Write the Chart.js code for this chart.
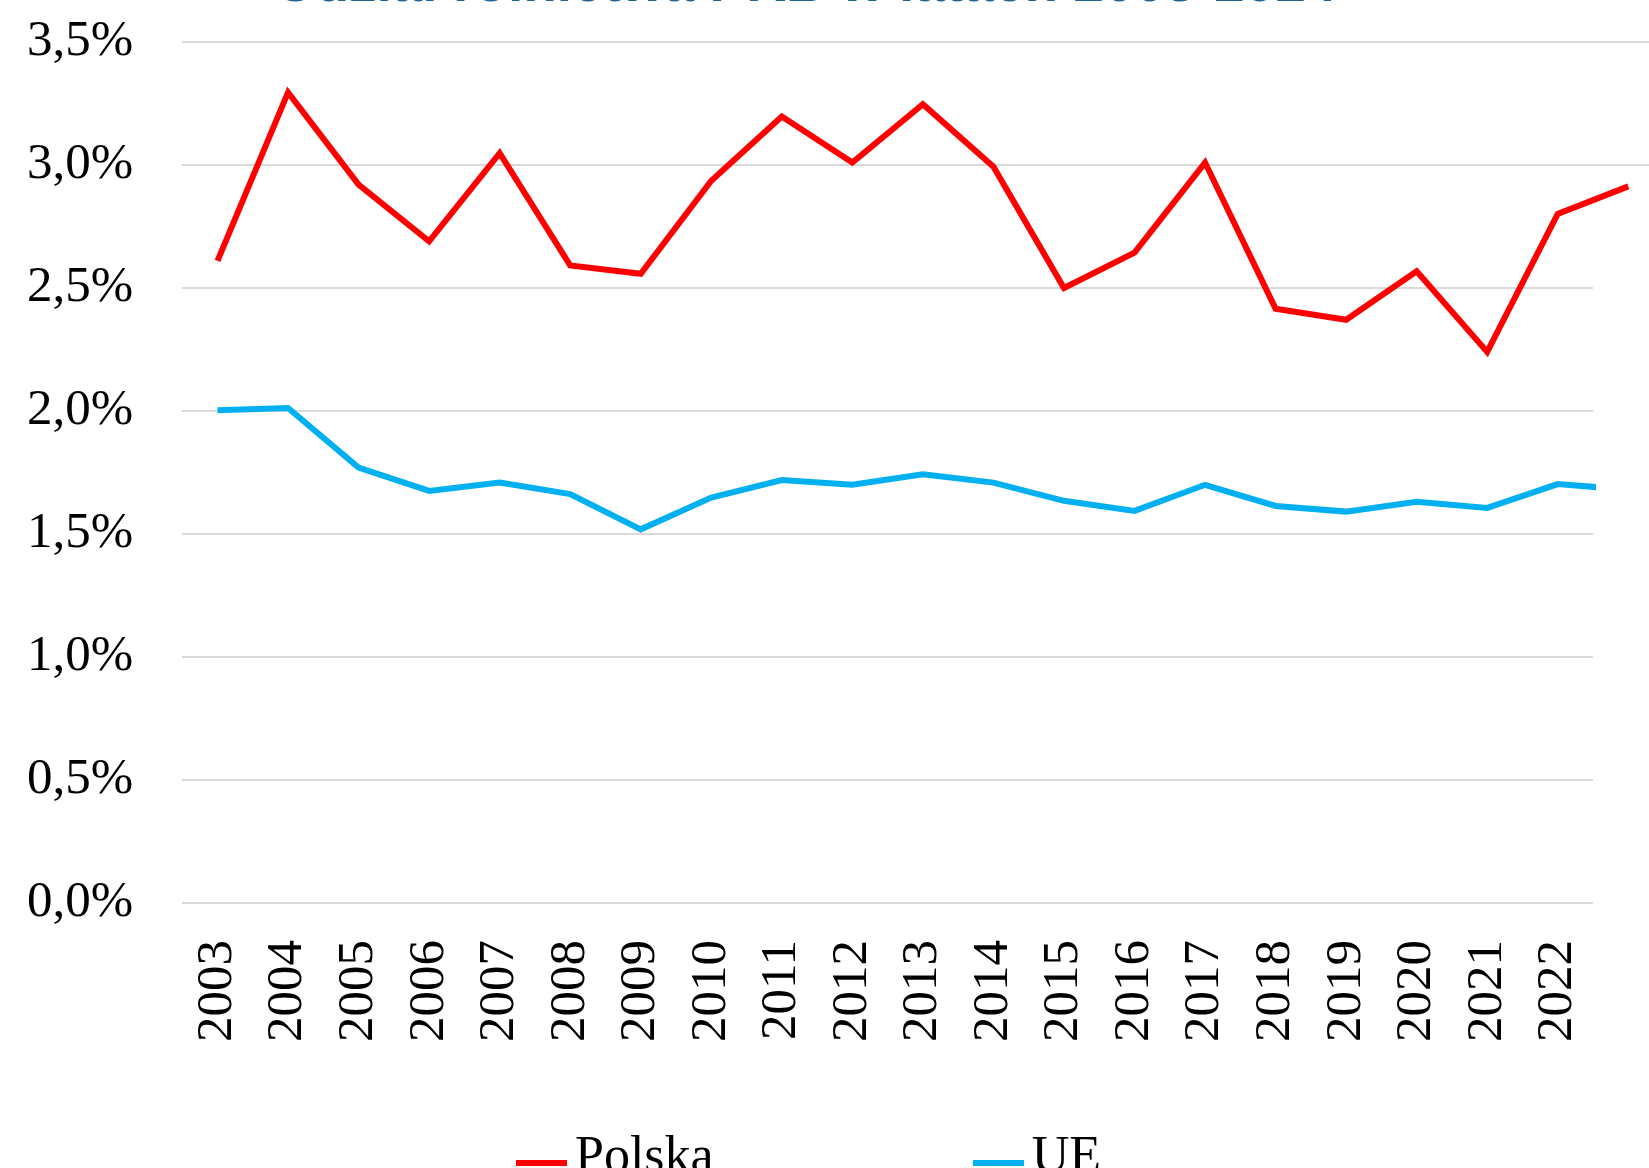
<!DOCTYPE html>
<html>
<head>
<meta charset="utf-8">
<script src="https://cdn.jsdelivr.net/npm/chart.js@4/dist/chart.umd.min.js"></script>
<style>
  html, body { margin: 0; padding: 0; background: #fff; }
  body { width: 1649px; height: 1168px; overflow: hidden; position: relative; }
  #wrap { position: absolute; left: 0; top: 0; width: 1649px; height: 1168px; }
  #title { position: absolute; left: 0; width: 1612px; top: -45px; text-align: center;
           font: bold 55px 'Liberation Sans', Arial, sans-serif; line-height: 54px; color: #1f6493; white-space: nowrap; }
  #legend { position: absolute; left: 516px; top: 1129px; display: flex; gap: 259px;
            font: 52px 'Liberation Serif', 'Times New Roman', serif; line-height: 52px; color: #000; white-space: nowrap; }
  #legend .sw { display: inline-block; width: 51px; height: 6px; margin-right: 8px; vertical-align: 5.6px; }
</style>
</head>
<body>
<div id="title"></div>
<div id="wrap"><canvas id="c" width="1649" height="1168"></canvas></div>
<div id="legend"></div>
<script>
const titleText = 'Udział rolnictwa PKB w latach 2003-2024';
const years = ['2003','2004','2005','2006','2007','2008','2009','2010','2011','2012','2013','2014','2015','2016','2017','2018','2019','2020','2021','2022','2023'];
const lastShownYear = '2022';
const polska = [2.61, 3.295, 2.92, 2.69, 3.048, 2.592, 2.558, 2.936, 3.197, 3.01, 3.247, 2.993, 2.50, 2.644, 3.01, 2.416, 2.371, 2.568, 2.24, 2.801, 2.913];
const ue = [2.003, 2.012, 1.77, 1.675, 1.709, 1.662, 1.519, 1.648, 1.719, 1.70, 1.743, 1.709, 1.635, 1.594, 1.70, 1.614, 1.591, 1.631, 1.606, 1.703, 1.68];
const seriesNames = ['Polska', 'UE'];
const seriesColors = ['#ff0000', '#00b0f0'];
const yMin = 0, yMax = 3.5, yStep = 0.5;

document.getElementById('title').textContent = titleText;

const serif = "'Liberation Serif', 'Times New Roman', serif";

const extendGrid = {
  id: 'extendGrid',
  beforeDatasetsDraw(chart) {
    const y = chart.scales.y, a = chart.chartArea, ctx = chart.ctx;
    ctx.save();
    ctx.strokeStyle = '#d9d9d9';
    ctx.lineWidth = 2;
    y.ticks.forEach(t => {
      if (t.value >= 3) {
        const py = Math.round(y.getPixelForValue(t.value));
        ctx.beginPath();
        ctx.moveTo(a.right, py);
        ctx.lineTo(chart.width, py);
        ctx.stroke();
      }
    });
    ctx.restore();
  }
};

const chart = new Chart(document.getElementById('c'), {
  type: 'line',
  data: {
    labels: years,
    datasets: [
      { label: seriesNames[0], data: polska, borderColor: seriesColors[0], backgroundColor: seriesColors[0],
        borderWidth: 6, pointRadius: 0, tension: 0, clip: false },
      { label: seriesNames[1], data: ue, borderColor: seriesColors[1], backgroundColor: seriesColors[1],
        borderWidth: 6, pointRadius: 0, tension: 0 }
    ]
  },
  options: {
    responsive: false,
    animation: false,
    devicePixelRatio: 1,
    layout: { padding: { top: 42, left: -22, right: 56, bottom: 89 } },
    plugins: { legend: { display: false }, title: { display: false }, tooltip: { enabled: false } },
    scales: {
      x: {
        type: 'category',
        offset: true,
        afterDataLimits: s => { s.max = s.getLabels().indexOf(lastShownYear); },
        afterFit: s => { s.paddingLeft = 0; s.paddingRight = 0; },
        grid: { display: false, drawTicks: false },
        border: { display: false },
        ticks: { autoSkip: false, minRotation: 90, maxRotation: 90, padding: 37, color: '#000',
                 font: { family: serif, size: 51 } }
      },
      y: {
        min: yMin, max: yMax,
        afterFit: s => { s.paddingTop = 0; s.paddingBottom = 0; },
        grid: { color: '#d9d9d9', lineWidth: 2, drawTicks: false },
        border: { display: false },
        ticks: { stepSize: yStep, padding: 49, color: '#000', font: { family: serif, size: 51 },
                 callback: v => v.toFixed(1).replace('.', ',') + '%' }
      }
    }
  },
  plugins: [extendGrid]
});

const lg = document.getElementById('legend');
chart.data.datasets.forEach(ds => {
  const it = document.createElement('div');
  const sw = document.createElement('span');
  sw.className = 'sw';
  sw.style.background = ds.borderColor;
  it.appendChild(sw);
  it.appendChild(document.createTextNode(ds.label));
  lg.appendChild(it);
});
</script>
</body>
</html>
